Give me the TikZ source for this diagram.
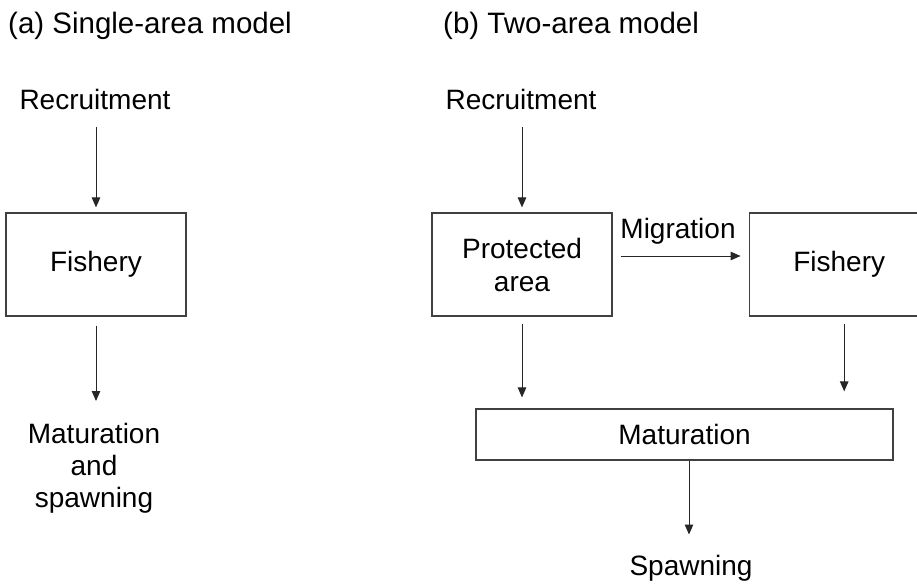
\documentclass[tikz,border=0pt]{standalone}
\usepackage{fontspec}
\setmainfont{Liberation Sans}
\usetikzlibrary{arrows.meta,positioning}
\tikzset{>={Triangle[length=10pt,width=8.5pt]}}

\begin{document}
\begin{tikzpicture}[x=1pt,y=-1pt,node distance=136pt,
    font=\fontsize{28}{33}\selectfont,
    lbl/.style={inner sep=0pt},
    title/.style={lbl,anchor=base west,font=\fontsize{29.5}{34}\selectfont},
    box/.style={draw=black!75,line width=1.2pt,minimum width=180pt,
      minimum height=103pt,align=center},
    flow/.style={->,line width=1pt,draw=black!85}]
    \useasboundingbox (0,0) rectangle (917,583);

    % (a) single area
    \node (ta) [title] at (8,34) {(a) Single-area model};
    \node (reca) [lbl,anchor=base] at (95,110) {Recruitment};
    \node (fisha) [box] at (96,264.5) {Fishery};
    \node (spawna) [lbl,anchor=north,align=center,
      font=\fontsize{28}{32}\selectfont] at (94,423) {Maturation\\and\\spawning};

    % (b) two areas
    \node (tb) [title] at (443,34) {(b) Two-area model};
    \node (recb) [lbl,anchor=base] at (521,110) {Recruitment};
    \node (prot) [box] at (522,264.5) {Protected\\area};
    \node (fishb) [box,right=of prot] {Fishery};
    \node (mig) [lbl,anchor=base] at (678,238) {Migration};
    \node (matur) [box,minimum width=417pt,minimum height=51pt] at (684.5,434.5) {Maturation};
    \node (spawnb) [lbl,anchor=base] at (691,575) {Spawning};

    \draw[flow,shorten <=17pt,shorten >=5pt] (reca.south -| fisha.north) -- (fisha.north);
    \draw[flow,shorten <=9pt,shorten >=22pt] (fisha.south) -- (fisha.south |- spawna.north);

    \draw[flow,shorten <=17pt,shorten >=5pt] (recb.south -| prot.north) -- (prot.north);
    \draw[flow,shorten <=8pt,shorten >=8pt] ([yshift=8.5pt]prot.east) -- ([yshift=8.5pt]fishb.west);
    \draw[flow,shorten <=7pt,shorten >=11pt] (prot.south) -- (prot.south |- matur.north);
    \draw[flow,shorten <=7pt,shorten >=17pt] ([xshift=5pt]fishb.south) -- ([xshift=5pt]fishb.south |- matur.north);
    \draw[flow,shorten >=20pt] ([xshift=4.5pt]matur.south) -- ([xshift=4.5pt]matur.south |- spawnb.north);
\end{tikzpicture}
\end{document}
